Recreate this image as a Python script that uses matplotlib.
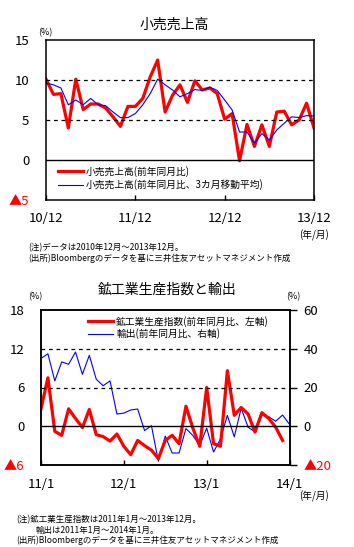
import matplotlib
matplotlib.use("Agg")
import matplotlib.pyplot as plt
from matplotlib.lines import Line2D

plt.rcParams['font.family'] = ['Noto Sans CJK JP', 'DejaVu Sans']

RED = '#ff0000'
BLUE = '#0000ff'

# --- 小売売上高 (2010/12 - 2013/12) ---
retail_yoy = [10.1, 8.2, 8.3, 4.0, 10.1, 6.3, 7.0, 7.0, 6.5, 5.4, 4.2, 6.7,
              6.7, 7.7, 10.4, 12.5, 6.0, 8.1, 9.4, 7.2, 9.9, 8.75, 9.0, 8.3,
              5.1, 5.8, -0.1, 4.45, 1.7, 4.4, 1.7, 6.0, 6.1, 4.4, 5.0, 7.1,
              4.0]
retail_ma3 = [9.6, 9.4, 9.0, 6.9, 7.5, 6.9, 7.7, 6.9, 6.8, 6.0, 5.3, 5.3,
              5.8, 6.9, 8.3, 10.1, 9.4, 8.75, 7.9, 8.3, 8.8, 8.7, 9.1, 8.7,
              7.5, 6.25, 3.5, 3.5, 2.1, 3.3, 2.5, 3.75, 4.6, 5.4, 5.3, 5.55,
              5.5]
top_xlabels = ['10/12', '11/12', '12/12', '13/12']
top_yticks = [15, 10, 5, 0, -5]
top_ylabels = ['15', '10', '5', '0', '▲5']

# --- 鉱工業生産指数と輸出 (2011/1 - 2013/12, 輸出は2014/1まで) ---
ip_yoy = [2.7, 7.5, -0.8, -1.4, 2.7, 1.2, -0.2, 2.6, -1.3, -1.6, -2.3, -1.2,
          -3.1, -4.4, -2.2, -3.0, -3.7, -5.0, -2.2, -1.4, -2.7, 3.1, -0.3, -3.1,
          6.0, -2.7, -3.1, 8.6, 1.7, 2.9, 1.9, -0.9, 2.1, 1.2, -0.15, -2.2]
export_yoy = [35.0, 37.4, 23.4, 33.2, 32.0, 38.3, 26.8, 36.6, 24.3, 20.9, 23.4, 6.3,
              6.8, 8.4, 8.9, -2.2, 0.3, -18.1, -5.1, -13.8, -13.8, -1.2, -4.8, -9.9,
              -1.0, -13.3, -6.5, 5.6, -5.5, 9.3, -0.5, -2.9, 5.8, 4.9, 2.6, 5.8,
              1.0]
bot_xlabels = ['11/1', '12/1', '13/1', '14/1']
left_yticks = [18, 12, 6, 0, -6]
left_ylabels = ['18', '12', '6', '0', '▲6']
right_yticks = [60, 40, 20, 0, -20]
right_ylabels = ['60', '40', '20', '0', '▲20']

W, H = 354, 547
fig = plt.figure(figsize=(W / 100, H / 100), dpi=100)
fig.patch.set_facecolor('white')


def px(x0, y0, x1, y1):
    return [x0 / W, 1 - y1 / H, (x1 - x0) / W, (y1 - y0) / H]


def style_axes(ax):
    for s in ax.spines.values():
        s.set_linewidth(1.1)
        s.set_color('black')


# ---------- top chart ----------
ax1 = fig.add_axes(px(46, 40, 314, 200))
style_axes(ax1)
ax1.plot(range(len(retail_yoy)), retail_yoy, color=RED, lw=2.3,
         label='小売売上高(前年同月比)')
ax1.plot(range(len(retail_ma3)), retail_ma3, color=BLUE, lw=0.8,
         label='小売売上高(前年同月比、3カ月移動平均)')
for v in [10, 5]:
    ax1.axhline(v, color='black', lw=0.9, ls=(0, (3, 3)))
ax1.axhline(0, color='black', lw=1.0)
ax1.set_xlim(0, 36)
ax1.set_ylim(-5, 15)
ax1.set_xticks([0, 12, 24, 36])
ax1.set_xticklabels(top_xlabels, fontsize=9.5)
ax1.set_yticks(top_yticks)
ax1.set_yticklabels(top_ylabels, fontsize=9.5)
ax1.get_yticklabels()[-1].set_color(RED)
ax1.tick_params(axis='x', direction='in', length=3.5, width=1, pad=9)
ax1.tick_params(axis='y', length=0, pad=12)
ax1.legend(loc='upper left', bbox_to_anchor=(58 / W, 1 - 166 / H),
           bbox_transform=fig.transFigure, frameon=False, fontsize=7,
           handlelength=2.6, handletextpad=0.3, labelspacing=0.25,
           borderpad=0, borderaxespad=0)

fig.text(174 / W, 1 - 25 / H, '小売売上高', ha='center', va='center', fontsize=10)
fig.text(45 / W, 1 - 33 / H, '(%)', ha='center', va='center', fontsize=6.5)
fig.text(329 / W, 1 - 235 / H, '(年/月)', ha='right', va='center', fontsize=7)
fig.text(28 / W, 1 - 248 / H, '(注)データは2010年12月～2013年12月。',
         ha='left', va='center', fontsize=6.1)
fig.text(28 / W, 1 - 258 / H,
         '(出所)Bloombergのデータを基に三井住友アセットマネジメント作成',
         ha='left', va='center', fontsize=6.1)

# ---------- bottom chart ----------
ax2 = fig.add_axes(px(41, 310, 289.5, 465))
style_axes(ax2)
ax3 = ax2.twinx()
style_axes(ax3)
ax3.plot(range(len(export_yoy)), export_yoy, color=BLUE, lw=0.8)
ax2.plot(range(len(ip_yoy)), ip_yoy, color=RED, lw=2.3)
for v in [12, 6]:
    ax2.axhline(v, color='black', lw=0.9, ls=(0, (3, 3)))
ax2.axhline(0, color='black', lw=1.0)
ax2.set_zorder(ax3.get_zorder() + 1)
ax2.patch.set_visible(False)
ax2.set_xlim(0, 36)
ax2.set_ylim(-6, 18)
ax3.set_ylim(-20, 60)
ax2.set_xticks([0, 12, 24, 36])
ax2.set_xticklabels(bot_xlabels, fontsize=9.5)
ax2.set_yticks(left_yticks)
ax2.set_yticklabels(left_ylabels, fontsize=9.5)
ax2.get_yticklabels()[-1].set_color(RED)
ax3.set_yticks(right_yticks)
ax3.set_yticklabels(right_ylabels, fontsize=9.5)
ax3.get_yticklabels()[-1].set_color(RED)
ax2.tick_params(axis='x', direction='in', length=3.5, width=1, pad=9)
ax2.tick_params(axis='y', length=0, pad=12)
ax3.tick_params(axis='y', direction='out', length=5, width=1, pad=5)

handles = [Line2D([], [], color=RED, lw=2.3), Line2D([], [], color=BLUE, lw=0.8)]
ax2.legend(handles, ['鉱工業生産指数(前年同月比、左軸)', '輸出(前年同月比、右軸)'],
           loc='upper left', bbox_to_anchor=(88 / W, 1 - 316 / H),
           bbox_transform=fig.transFigure, frameon=False, fontsize=7,
           handlelength=2.6, handletextpad=0.3, labelspacing=0.15,
           borderpad=0, borderaxespad=0)

fig.text(167 / W, 1 - 290 / H, '鉱工業生産指数と輸出', ha='center', va='center',
         fontsize=10)
fig.text(35 / W, 1 - 297 / H, '(%)', ha='center', va='center', fontsize=6.5)
fig.text(293 / W, 1 - 297 / H, '(%)', ha='center', va='center', fontsize=6.5)
fig.text(329 / W, 1 - 496 / H, '(年/月)', ha='right', va='center', fontsize=7)
fig.text(16 / W, 1 - 520 / H, '(注)鉱工業生産指数は2011年1月～2013年12月。',
         ha='left', va='center', fontsize=6.1)
fig.text(36 / W, 1 - 530 / H, '輸出は2011年1月～2014年1月。',
         ha='left', va='center', fontsize=6.1)
fig.text(16 / W, 1 - 540 / H,
         '(出所)Bloombergのデータを基に三井住友アセットマネジメント作成',
         ha='left', va='center', fontsize=6.1)

fig.savefig('out.png', dpi=100)
